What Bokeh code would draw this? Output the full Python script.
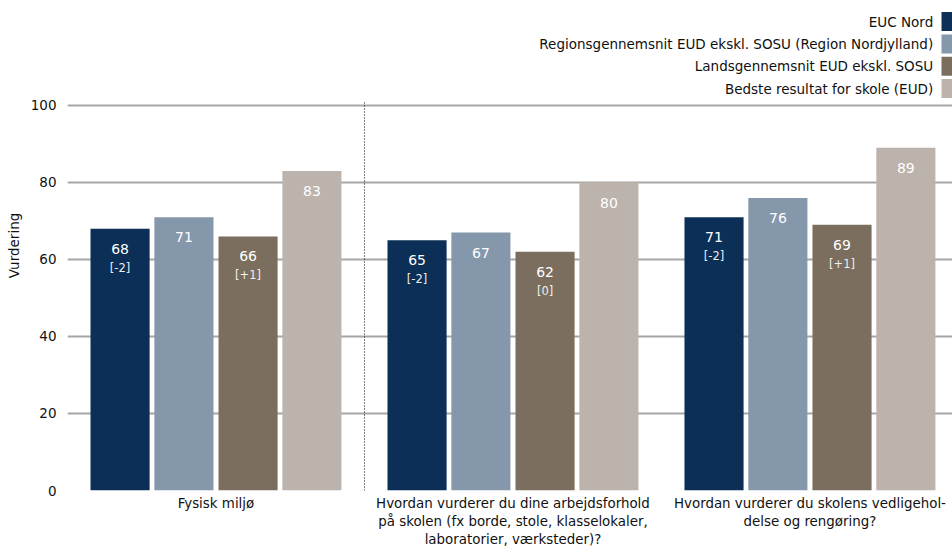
from bokeh.plotting import figure
from bokeh.models import Range1d, FixedTicker, ColumnDataSource
from bokeh.embed import file_html
from bokeh.resources import INLINE
from bokeh.core.properties import value
import numpy as np

categories = ["Fysisk miljø",
              "Hvordan vurderer du dine arbejdsforhold\npå skolen (fx borde, stole, klasselokaler,\nlaboratorier, værksteder)?",
              "Hvordan vurderer du skolens vedligehol-\ndelse og rengøring?"]
series_names = ["EUC Nord",
                "Regionsgennemsnit EUD ekskl. SOSU (Region Nordjylland)",
                "Landsgennemsnit EUD ekskl. SOSU",
                "Bedste resultat for skole (EUD)"]
colors = ["#0b2f56", "#8497ab", "#7b6e5e", "#bcb3ac"]
euc_nord = [68, 65, 71]
region = [71, 67, 76]
lands = [66, 62, 69]
bedste = [83, 80, 89]
euc_diff = ["[-2]", "[-2]", "[-2]"]
lands_diff = ["[+1]", "[0]", "[+1]"]
y_ticks = [0, 20, 40, 60, 80, 100]

FONT = "DejaVu Sans"
values = [euc_nord, region, lands, bedste]
diffs = [euc_diff, None, lands_diff, None]
offsets = [-0.323, -0.108, 0.108, 0.323]
bar_w = 0.199

p = figure(width=952, height=555, output_backend="svg", toolbar_location=None,
           x_range=Range1d(0, 2.98), y_range=Range1d(0, 127.27),
           min_border_left=67, min_border_right=0, min_border_top=0, min_border_bottom=65)
p.outline_line_color = None
p.background_fill_color = "white"
p.border_fill_color = "white"

centers = np.arange(len(categories)) + 0.5
for k in range(4):
    src = ColumnDataSource(dict(x=centers + offsets[k], top=values[k],
                                lab=[str(v) for v in values[k]],
                                ly=[v - 5.2 for v in values[k]]))
    p.vbar(x="x", top="top", bottom=0, width=bar_w, source=src,
           fill_color=colors[k], line_color=None)
    p.text(x="x", y="ly", text="lab", source=src, text_color="white",
           text_align="center", text_baseline="middle",
           text_font=value(FONT), text_font_size="14px")
    if diffs[k] is not None:
        dsrc = ColumnDataSource(dict(x=centers + offsets[k], lab=diffs[k],
                                     ly=[v - 10.1 for v in values[k]]))
        p.text(x="x", y="ly", text="lab", source=dsrc, text_color="#eeeeee",
               text_align="center", text_baseline="middle",
               text_font=value(FONT), text_font_size="11.5px")

# separator
p.segment(x0=[1.0], y0=[0], x1=[1.0], y1=[100.8], line_color="#000000",
          line_width=1, line_dash="1 2")

# legend (manual, right aligned with swatch on the right)
leg_y = [121.8 - i * 5.8 for i in range(4)]
lsrc = ColumnDataSource(dict(x=[2.915] * 4, y=leg_y, t=series_names, c=colors))
p.text(x="x", y="y", text="t", source=lsrc, text_align="right", text_baseline="middle",
       text_font=value(FONT), text_font_size="13.5px", text_color="#111111")
p.rect(x=[2.98] * 4, y=leg_y, width=22, height=19, width_units="screen",
       height_units="screen", fill_color=colors, line_color=None)

# axes
p.yaxis.ticker = FixedTicker(ticks=y_ticks)
p.yaxis.axis_line_color = None
p.yaxis.major_tick_line_color = None
p.yaxis.minor_tick_line_color = None
p.yaxis.major_tick_out = 0
p.yaxis.major_label_text_font = FONT
p.yaxis.major_label_text_font_size = "13.5px"
p.yaxis.major_label_text_color = "#111111"
p.yaxis.major_label_standoff = 11
p.yaxis.axis_label = "Vurdering"
p.yaxis.axis_label_text_font = FONT
p.yaxis.axis_label_text_font_size = "13.5px"
p.yaxis.axis_label_text_font_style = "normal"
p.yaxis.axis_label_text_color = "#111111"
p.yaxis.axis_label_standoff = 6

p.xaxis.ticker = FixedTicker(ticks=list(centers))
p.xaxis.major_label_overrides = {float(c): categories[i] for i, c in enumerate(centers)}
p.xaxis.axis_line_color = None
p.xaxis.major_tick_line_color = None
p.xaxis.minor_tick_line_color = None
p.xaxis.major_tick_out = 0
p.xaxis.major_label_text_font = FONT
p.xaxis.major_label_text_font_size = "13.4px"
p.xaxis.major_label_text_color = "#111111"
p.xaxis.major_label_standoff = 5

p.xgrid.grid_line_color = None
p.ygrid.ticker = FixedTicker(ticks=y_ticks)
p.ygrid.grid_line_color = "#a6a6a6"
p.ygrid.grid_line_width = 2

open("out.html", "w").write(file_html(p, INLINE))
